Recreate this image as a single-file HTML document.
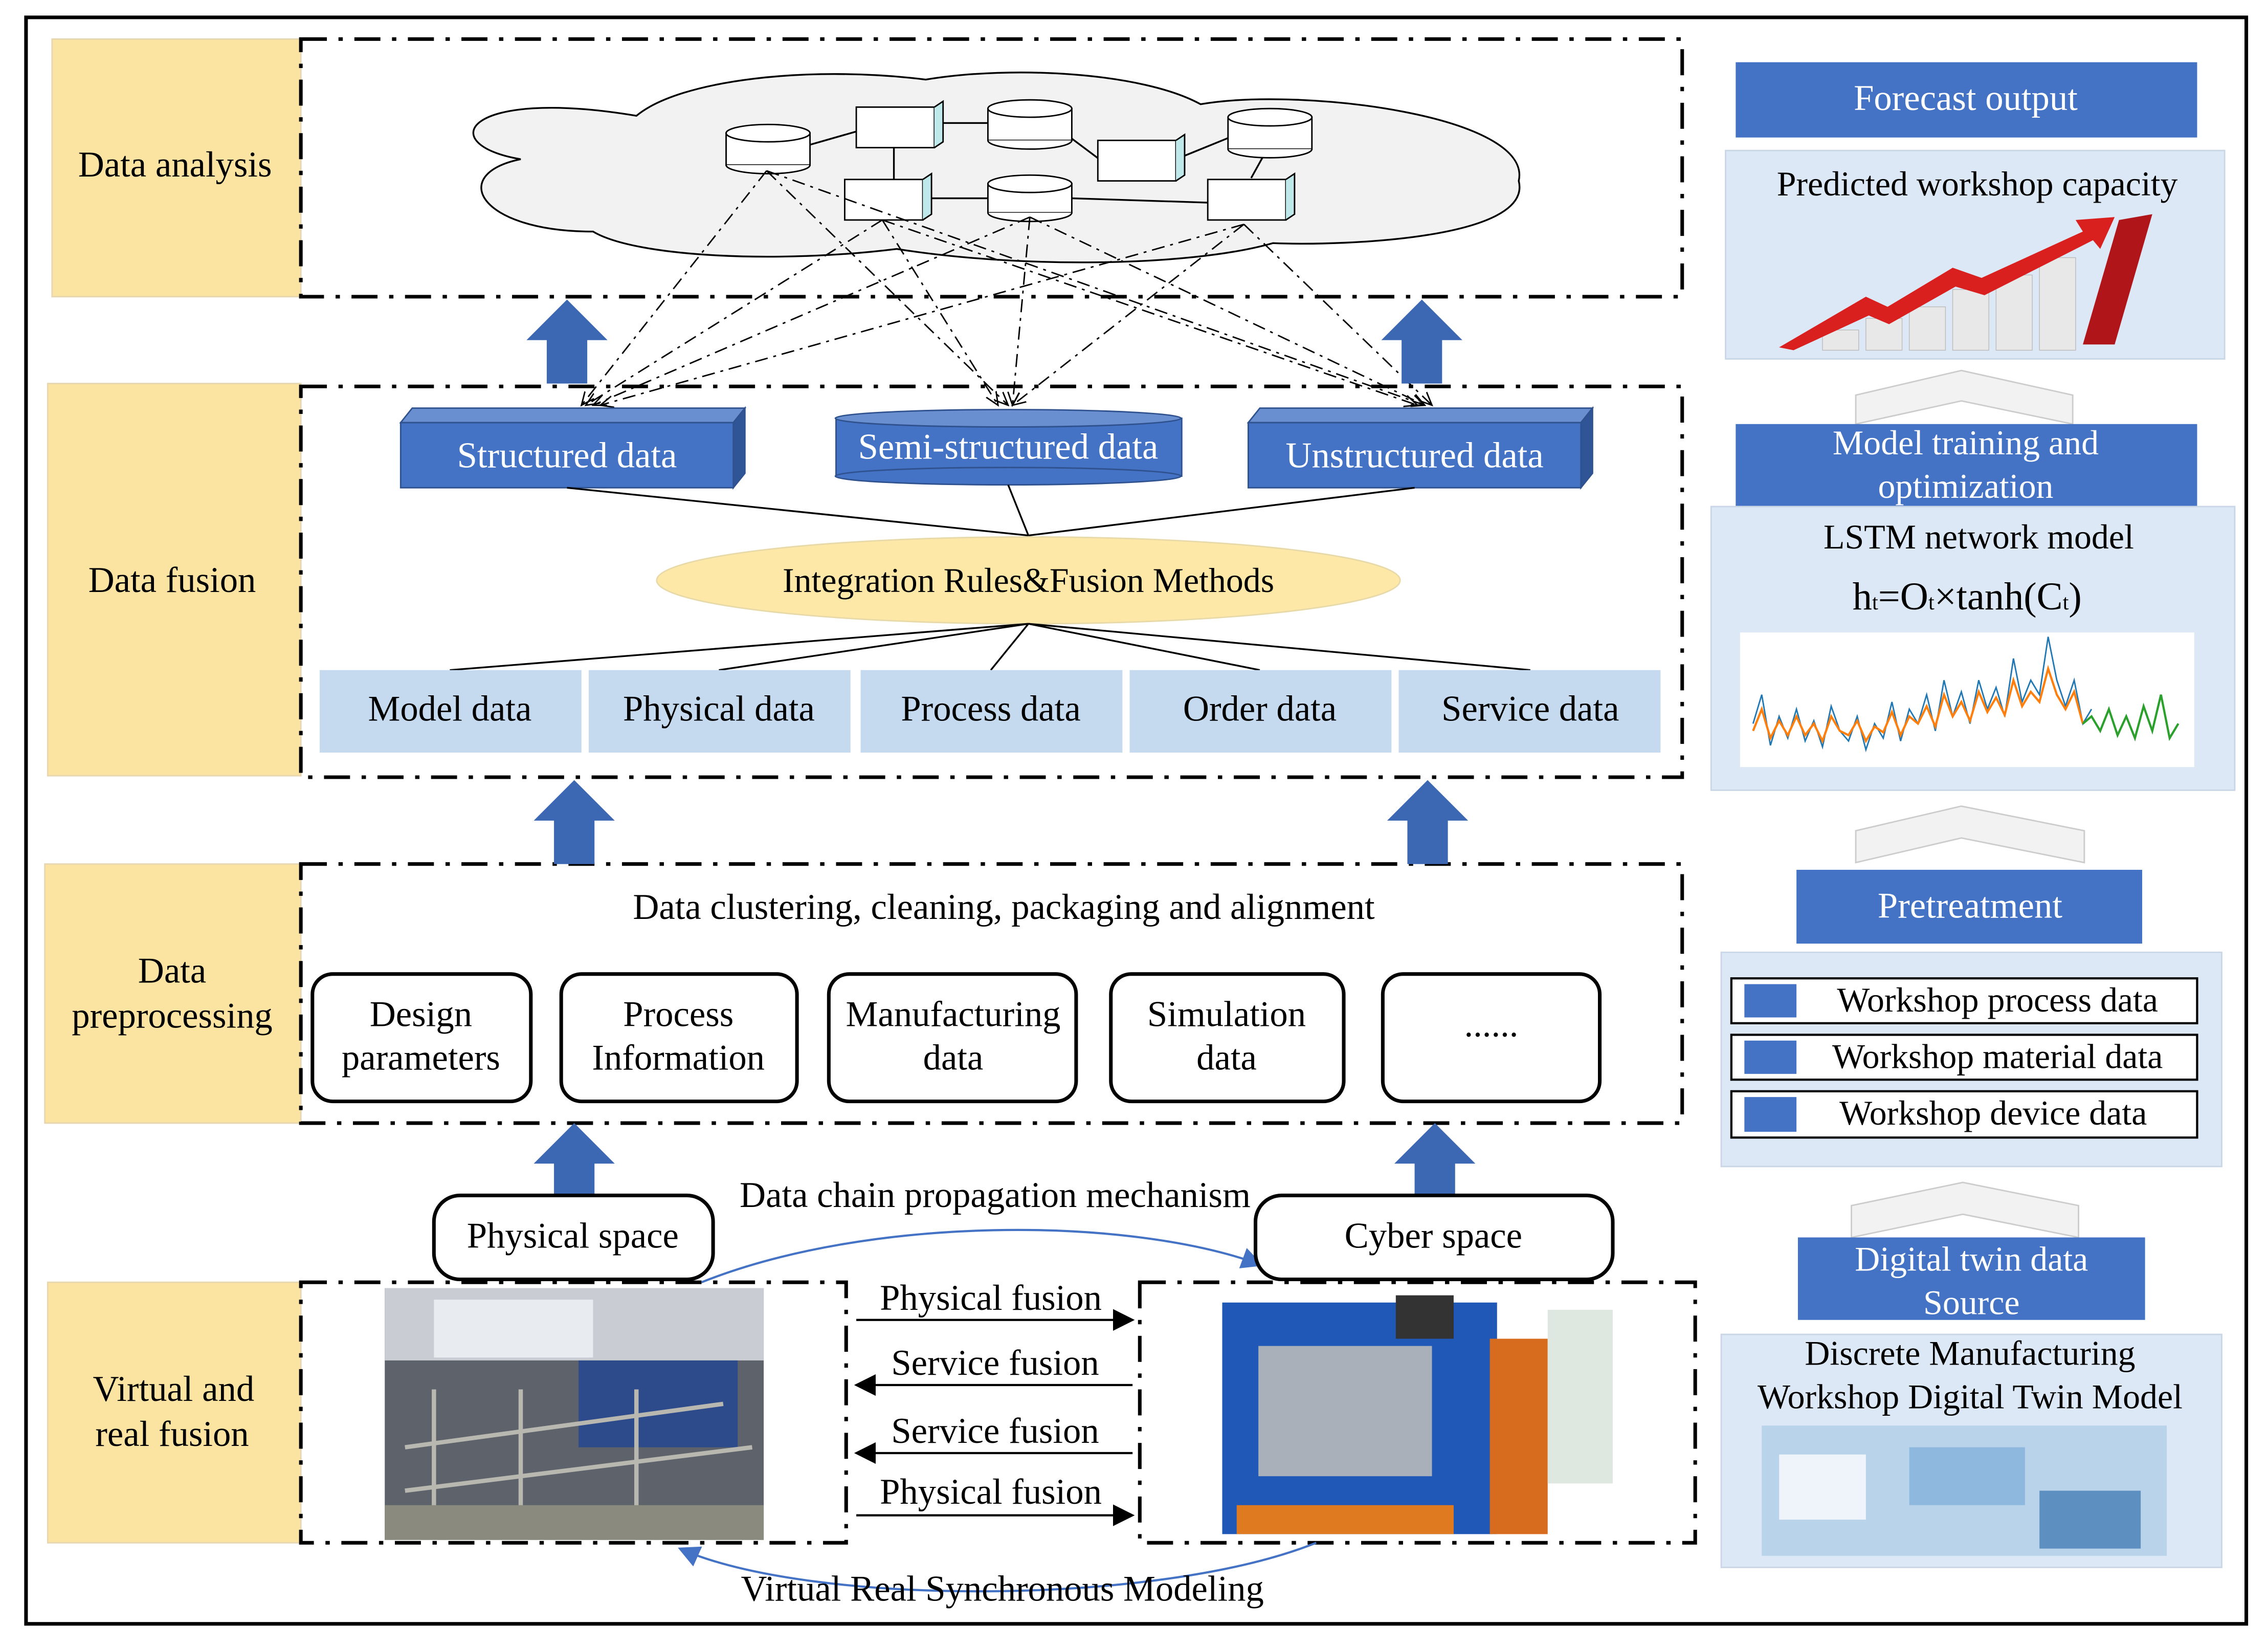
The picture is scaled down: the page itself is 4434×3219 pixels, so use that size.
<!DOCTYPE html>
<html><head><meta charset="utf-8"><style>
html,body{margin:0;padding:0;background:#fff;}
svg{display:block;}
text{font-family:"Liberation Serif",serif;}
</style></head><body>
<svg width="4434" height="3219" viewBox="0 0 1568 1138" preserveAspectRatio="none" xmlns="http://www.w3.org/2000/svg">
<defs>
<marker id="ah" markerWidth="10" markerHeight="10" refX="9" refY="5" orient="auto"><path d="M0,0 L10,5 L0,10 z" fill="#000"/></marker>
<marker id="oa" markerWidth="10" markerHeight="10" refX="9" refY="5" orient="auto"><path d="M0,1 L9,5 L0,9" fill="none" stroke="#000"/></marker>
<marker id="ba" markerWidth="10" markerHeight="10" refX="9" refY="5" orient="auto"><path d="M0,0 L10,5 L0,10 z" fill="#4472c4"/></marker>
</defs>
<rect x="18" y="12" width="1535" height="1110" fill="#fff" stroke="#000" stroke-width="2.5"/>

<g fill="#fbe3a2" stroke="#e6d7b0" stroke-width="1">
<rect x="36" y="27" width="172" height="178"/>
<rect x="33" y="265" width="175" height="271"/>
<rect x="31" y="597" width="177" height="179"/>
<rect x="33" y="886" width="175" height="180"/>
</g>
<g font-size="25" text-anchor="middle" fill="#000">
<text x="121" y="122">Data analysis</text>
<text x="119" y="409">Data fusion</text>
<text x="119" y="679">Data</text><text x="119" y="710">preprocessing</text>
<text x="120" y="968">Virtual and</text><text x="119" y="999">real fusion</text>
</g>

<g fill="none" stroke="#000" stroke-width="2.5" stroke-dasharray="18,8,3,8">
<rect x="208" y="27" width="955" height="178"/>
<rect x="208" y="267" width="955" height="270"/>
<rect x="208" y="597" width="955" height="179"/>
<rect x="208" y="886" width="377" height="180"/>
<rect x="788" y="886" width="384" height="180"/>
</g>

<path d="M360,110 C300,100 320,60 440,80 C470,55 560,45 640,55 C700,45 790,50 830,72 C900,60 1060,80 1050,125 C1060,165 930,170 880,168 C820,185 700,185 620,172 C540,182 440,178 410,160 C330,160 310,120 360,110 z" fill="#f2f2f2" stroke="#000" stroke-width="1.2"/>
<g stroke="#000" stroke-width="1.2" fill="none">
<line x1="560" y1="100" x2="595" y2="90"/><line x1="650" y1="85" x2="683" y2="85"/>
<line x1="740" y1="95" x2="760" y2="110"/><line x1="818" y1="108" x2="850" y2="95"/>
<line x1="618" y1="100" x2="618" y2="124"/><line x1="642" y1="137" x2="683" y2="137"/>
<line x1="741" y1="137" x2="835" y2="140"/><line x1="865" y1="123" x2="875" y2="105"/>
</g>
<g stroke="#000" stroke-width="1" fill="#fff">
<g><rect x="502" y="92" width="58" height="22"/><ellipse cx="531" cy="92" rx="29" ry="6"/><path d="M502,114 a29,6 0 0 0 58,0" /></g>
<g><rect x="683" y="75" width="58" height="22"/><ellipse cx="712" cy="75" rx="29" ry="6"/><path d="M683,97 a29,6 0 0 0 58,0"/></g>
<g><rect x="849" y="81" width="58" height="22"/><ellipse cx="878" cy="81" rx="29" ry="6"/><path d="M849,103 a29,6 0 0 0 58,0"/></g>
<g><rect x="683" y="127" width="58" height="20"/><ellipse cx="712" cy="127" rx="29" ry="6"/><path d="M683,147 a29,6 0 0 0 58,0"/></g>
<rect x="592" y="74" width="54" height="28"/><path d="M646,74 l6,-4 v28 l-6,4" fill="#bfe8ea"/>
<rect x="759" y="97" width="54" height="28"/><path d="M813,97 l6,-4 v28 l-6,4" fill="#bfe8ea"/>
<rect x="584" y="124" width="54" height="28"/><path d="M638,124 l6,-4 v28 l-6,4" fill="#bfe8ea"/>
<rect x="835" y="124" width="54" height="28"/><path d="M889,124 l6,-4 v28 l-6,4" fill="#bfe8ea"/>
</g>
<g stroke="#000" stroke-width="1" stroke-dasharray="9,4,2,4" fill="none" marker-end="url(#oa)">
<line x1="530" y1="118" x2="402" y2="280"/>
<line x1="530" y1="118" x2="697" y2="280"/>
<line x1="530" y1="118" x2="985" y2="280"/>
<line x1="610" y1="152" x2="405" y2="280"/>
<line x1="610" y1="152" x2="690" y2="280"/>
<line x1="610" y1="152" x2="980" y2="280"/>
<line x1="712" y1="150" x2="410" y2="280"/>
<line x1="712" y1="150" x2="700" y2="280"/>
<line x1="712" y1="150" x2="985" y2="280"/>
<line x1="860" y1="155" x2="415" y2="280"/>
<line x1="860" y1="155" x2="700" y2="280"/>
<line x1="860" y1="155" x2="990" y2="280"/>
</g>

<g fill="#3c68b3">
<path d="M378,265 v-30 h-14 l28,-28 l28,28 h-14 v30 z"/>
<path d="M969,265 v-30 h-14 l28,-28 l28,28 h-14 v30 z"/>
<path d="M383,597 v-30 h-14 l28,-28 l28,28 h-14 v30 z"/>
<path d="M973,597 v-30 h-14 l28,-28 l28,28 h-14 v30 z"/>
<path d="M383,826 v-22 h-14 l28,-28 l28,28 h-14 v22 z"/>
<path d="M978,826 v-22 h-14 l28,-28 l28,28 h-14 v22 z"/>
</g>

<g fill="#4472c4" stroke="#2f528f" stroke-width="1">
<path d="M277,292 l8,-10 h230 l-8,10 z" fill="#6a8fd0"/><path d="M507,292 l8,-10 v45 l-8,10 z" fill="#2f5597"/>
<rect x="277" y="292" width="230" height="45"/>
<path d="M863,292 l8,-10 h230 l-8,10 z" fill="#6a8fd0"/><path d="M1093,292 l8,-10 v45 l-8,10 z" fill="#2f5597"/>
<rect x="863" y="292" width="230" height="45"/>
<rect x="578" y="289" width="239" height="40"/><ellipse cx="697" cy="329" rx="119.5" ry="6"/><ellipse cx="697" cy="289" rx="119.5" ry="6" fill="#6a8fd0"/>
</g>
<g font-size="25" fill="#fff" text-anchor="middle">
<text x="392" y="323">Structured data</text>
<text x="697" y="317">Semi-structured data</text>
<text x="978" y="323">Unstructured data</text>
</g>
<g stroke="#000" stroke-width="1.2">
<line x1="392" y1="337" x2="711" y2="370"/><line x1="697" y1="335" x2="711" y2="370"/><line x1="978" y1="337" x2="711" y2="370"/>
</g>
<ellipse cx="711" cy="401" rx="257" ry="30" fill="#fde8a8" stroke="#e8d9a8"/>
<text x="711" y="409" font-size="24" text-anchor="middle">Integration Rules&amp;Fusion Methods</text>
<g stroke="#000" stroke-width="1.2">
<line x1="711" y1="431" x2="311" y2="463"/><line x1="711" y1="431" x2="497" y2="463"/><line x1="711" y1="431" x2="685" y2="463"/><line x1="711" y1="431" x2="871" y2="463"/><line x1="711" y1="431" x2="1058" y2="463"/>
</g>
<g fill="#c5d9ef">
<rect x="221" y="463" width="181" height="57"/><rect x="407" y="463" width="181" height="57"/><rect x="595" y="463" width="181" height="57"/><rect x="781" y="463" width="181" height="57"/><rect x="967" y="463" width="181" height="57"/>
</g>
<g font-size="25" text-anchor="middle">
<text x="311" y="498">Model data</text><text x="497" y="498">Physical data</text><text x="685" y="498">Process data</text><text x="871" y="498">Order data</text><text x="1058" y="498">Service data</text>
<text x="694" y="635">Data clustering, cleaning, packaging and alignment</text>
</g>
<g fill="#fff" stroke="#000" stroke-width="2.5">
<rect x="216" y="673" width="151" height="88" rx="14"/><rect x="388" y="673" width="163" height="88" rx="14"/><rect x="573" y="673" width="171" height="88" rx="14"/><rect x="768" y="673" width="161" height="88" rx="14"/><rect x="956" y="673" width="150" height="88" rx="14"/>
</g>
<g font-size="25" text-anchor="middle">
<text x="291" y="709">Design</text><text x="291" y="739">parameters</text>
<text x="469" y="709">Process</text><text x="469" y="739">Information</text>
<text x="659" y="709">Manufacturing</text><text x="659" y="739">data</text>
<text x="848" y="709">Simulation</text><text x="848" y="739">data</text>
<text x="1031" y="716">......</text>
</g>

<path d="M485,886 C600,840 780,840 872,874" fill="none" stroke="#4472c4" stroke-width="1.5" marker-end="url(#ba)"/>
<path d="M910,1066 C800,1110 560,1110 470,1070" fill="none" stroke="#4472c4" stroke-width="1.5" marker-end="url(#ba)"/>
<rect x="300" y="826" width="193" height="58" rx="18" fill="#fff" stroke="#000" stroke-width="2.5"/>
<rect x="868" y="826" width="247" height="58" rx="18" fill="#fff" stroke="#000" stroke-width="2.5"/>
<g font-size="25" text-anchor="middle">
<text x="396" y="862">Physical space</text><text x="991" y="862">Cyber space</text>
<text x="688" y="834">Data chain propagation mechanism</text>
<text x="693" y="1106">Virtual Real Synchronous Modeling</text>
<text x="685" y="905">Physical fusion</text><text x="688" y="950">Service fusion</text><text x="688" y="997">Service fusion</text><text x="685" y="1039">Physical fusion</text>
</g>
<g stroke="#000" stroke-width="1.5" marker-end="url(#ah)">
<line x1="592" y1="912" x2="783" y2="912"/><line x1="783" y1="957" x2="592" y2="957"/><line x1="783" y1="1004" x2="592" y2="1004"/><line x1="592" y1="1047" x2="783" y2="1047"/>
</g>
<rect x="266" y="890" width="262" height="174" fill="#5e636b"/>
<rect x="266" y="890" width="262" height="50" fill="#c9ccd2"/>
<rect x="300" y="898" width="110" height="40" fill="#e8ebef"/>
<rect x="400" y="940" width="110" height="60" fill="#2d4a8a"/>
<g stroke="#b8b8b0" stroke-width="3"><line x1="280" y1="1000" x2="500" y2="970"/><line x1="280" y1="1030" x2="520" y2="1000"/><line x1="300" y1="960" x2="300" y2="1064"/><line x1="360" y1="960" x2="360" y2="1064"/><line x1="440" y1="960" x2="440" y2="1064"/></g>
<rect x="266" y="1040" width="262" height="24" fill="#8a8b7e"/>
<rect x="838" y="890" width="283" height="174" fill="#ffffff"/>
<path d="M845,900 h190 v160 h-190 z" fill="#2058b8"/>
<rect x="870" y="930" width="120" height="90" fill="#a9b0ba"/>
<rect x="965" y="895" width="40" height="30" fill="#333"/>
<rect x="1030" y="925" width="40" height="135" fill="#d86c1e"/>
<rect x="1070" y="905" width="45" height="120" fill="#dfe8e0"/>
<rect x="855" y="1040" width="150" height="20" fill="#e07a20"/>

<rect x="1200" y="43" width="319" height="52" fill="#4472c4"/>
<text x="1359" y="76" font-size="25" fill="#fff" text-anchor="middle">Forecast output</text>
<rect x="1193" y="104" width="345" height="144" fill="#dce8f5" stroke="#c9d6e6"/>
<text x="1367" y="135" font-size="24" text-anchor="middle">Predicted workshop capacity</text>
<g fill="#e8e8e8" stroke="#bbb" stroke-width=".5">
<rect x="1260" y="228" width="25" height="14"/><rect x="1290" y="220" width="25" height="22"/><rect x="1320" y="212" width="25" height="30"/><rect x="1350" y="200" width="25" height="42"/><rect x="1380" y="190" width="25" height="52"/><rect x="1410" y="178" width="25" height="64"/>
</g>
<path d="M1230,240 L1290,205 L1305,212 L1350,185 L1370,192 L1440,160 L1435,152 L1462,150 L1452,172 L1447,166 L1372,204 L1352,198 L1306,224 L1292,218 L1240,242 z" fill="#d9201f"/>
<path d="M1440,238 L1465,152 L1488,148 L1462,238 z" fill="#b0151a"/>
<path d="M1283,293 v-20 l73,-17 l77,17 v20 l-77,-16 z" fill="#f2f2f2" stroke="#ccc"/>
<rect x="1200" y="293" width="319" height="57" fill="#4472c4"/>
<text x="1359" y="314" font-size="24" fill="#fff" text-anchor="middle">Model training and</text>
<text x="1359" y="344" font-size="24" fill="#fff" text-anchor="middle">optimization</text>
<rect x="1183" y="350" width="362" height="196" fill="#dce8f5" stroke="#c9d6e6"/>
<text x="1368" y="379" font-size="24" text-anchor="middle">LSTM network model</text>
<text x="1360" y="421" font-size="27" text-anchor="middle">h<tspan font-size="15">t</tspan>=O<tspan font-size="15">t</tspan>×tanh(C<tspan font-size="15">t</tspan>)</text>
<rect x="1203" y="437" width="314" height="93" fill="#fff"/>
<polyline fill="none" stroke="#1f77b4" stroke-width="1" points="1212,500 1218,480 1224,515 1230,495 1236,510 1242,490 1248,512 1254,498 1260,516 1266,488 1272,505 1278,512 1284,495 1290,518 1296,500 1302,510 1308,485 1314,512 1320,490 1326,500 1332,480 1338,505 1344,470 1350,495 1356,478 1362,500 1368,470 1374,490 1380,475 1386,495 1392,455 1398,485 1404,470 1410,480 1416,440 1422,470 1428,488 1434,470 1440,500 1446,490"/>
<polyline fill="none" stroke="#ff7f0e" stroke-width="1.5" points="1212,505 1218,490 1224,510 1230,498 1236,508 1242,495 1248,508 1254,500 1260,512 1266,495 1272,505 1278,508 1284,498 1290,512 1296,502 1302,506 1308,492 1314,508 1320,495 1326,500 1332,488 1338,502 1344,480 1350,495 1356,485 1362,498 1368,478 1374,492 1380,482 1386,494 1392,470 1398,488 1404,478 1410,485 1416,462 1422,480 1428,490 1434,478 1440,500"/>
<polyline fill="none" stroke="#2ca02c" stroke-width="1.5" points="1440,500 1446,495 1452,505 1458,490 1464,508 1470,495 1476,510 1482,488 1488,505 1494,480 1500,510 1506,500"/>
<path d="M1283,596 v-22 l73,-17 l85,17 v22 l-85,-17 z" fill="#f2f2f2" stroke="#ccc"/>
<rect x="1242" y="601" width="239" height="51" fill="#4472c4"/>
<text x="1362" y="634" font-size="25" fill="#fff" text-anchor="middle">Pretreatment</text>
<rect x="1190" y="658" width="346" height="148" fill="#dce8f5" stroke="#c9d6e6"/>
<g fill="#fff" stroke="#000" stroke-width="1.5">
<rect x="1197" y="676" width="322" height="31"/><rect x="1197" y="715" width="322" height="31"/><rect x="1197" y="754" width="322" height="32"/>
</g>
<g fill="#4472c4"><rect x="1206" y="680" width="36" height="23"/><rect x="1206" y="719" width="36" height="23"/><rect x="1206" y="758" width="36" height="24"/></g>
<g font-size="24" text-anchor="middle">
<text x="1381" y="699">Workshop process data</text><text x="1381" y="738">Workshop material data</text><text x="1378" y="777">Workshop device data</text>
</g>
<path d="M1280,855 v-22 l77,-16 l80,16 v22 l-80,-16 z" fill="#f2f2f2" stroke="#ccc"/>
<rect x="1243" y="855" width="240" height="57" fill="#4472c4"/>
<text x="1363" y="878" font-size="24" fill="#fff" text-anchor="middle">Digital twin data</text>
<text x="1363" y="908" font-size="24" fill="#fff" text-anchor="middle">Source</text>
<rect x="1190" y="922" width="346" height="161" fill="#dce8f5" stroke="#c9d6e6"/>
<text x="1362" y="943" font-size="24" text-anchor="middle">Discrete Manufacturing</text>
<text x="1362" y="973" font-size="24" text-anchor="middle">Workshop Digital Twin Model</text>
<rect x="1218" y="985" width="280" height="90" fill="#b9d3ea"/>
<rect x="1230" y="1005" width="60" height="45" fill="#eef4fa"/>
<rect x="1320" y="1000" width="80" height="40" fill="#8fb8de"/>
<rect x="1410" y="1030" width="70" height="40" fill="#5d8fc0"/>
</svg>
</body></html>
